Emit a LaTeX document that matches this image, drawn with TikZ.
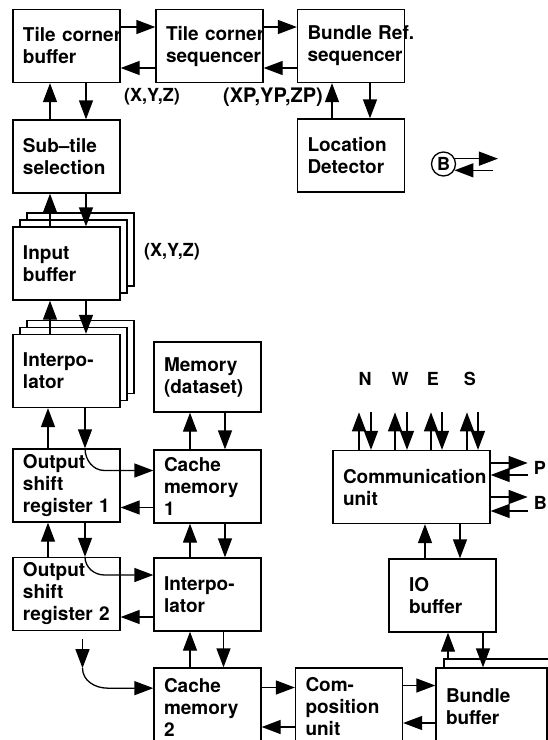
\documentclass[tikz,border=0pt]{standalone}
\usepackage{fontspec}
\setmainfont{TeX Gyre Heros}
\usetikzlibrary{arrows.meta,shadows}

\begin{document}
\begin{tikzpicture}[x=1pt,y=-1pt,
blk/.style={draw,line width=1.3pt,fill=white,text width=87pt,inner xsep=10pt,inner ysep=2pt,
  minimum height=73pt,align=left,font=\bfseries\fontsize{19}{22}\selectfont,
  execute at begin node={\hyphenpenalty=10000\exhyphenpenalty=10000}},
stack/.style={copy shadow={shadow xshift=14pt,shadow yshift=14pt,draw=black,fill=white,line width=1.3pt},
  copy shadow={shadow xshift=7pt,shadow yshift=7pt,draw=black,fill=white,line width=1.3pt}},
lbl/.style={font=\bfseries\fontsize{18}{20}\selectfont,inner sep=0pt},
arr/.style={line width=1.3pt,-{Triangle[length=19pt,width=14pt]}}]
\useasboundingbox (0,0) rectangle (548,740);
% tile corner / bundle reference part
\node[blk] (tcb) at (66.5,46) {Tile~corner\\buffer};
\node[blk] (tcs) at (209.5,46) {Tile~corner\\sequencer};
\node[blk] (brs) at (351,46) {Bundle~Ref.\\sequencer};
\node[blk] (sub) at (66.5,156.5) {Sub--tile\\selection};
\node[blk] (loc) at (351,155.5) {Location\\Detector};
\node[draw,circle,line width=1.3pt,minimum size=24pt,lbl] (bc) at (443.5,164) {B};
\node[lbl] (xyz) at (152,97) {(X,Y,Z)};
\node[lbl,font=\bfseries\fontsize{20}{22}\selectfont] (xyzp) at (273,97) {(XP,YP,ZP)};
% interpolation part
\node[blk,stack] (inb) at (66.5,263.5) {Input\\buffer};
\node[lbl] (xyzin) at (172,252) {(X,Y,Z)};
\node[blk,stack] (itp) at (66.5,371) {Interpo-\\lator};
\node[blk,minimum height=70pt] (mem) at (207.5,377) {Memory\\(dataset)};
\node[blk] (osr1) at (66.5,485.5) {Output\\shift\\register~1};
\node[blk] (cm1) at (207.5,486.5) {Cache\\memory\\1};
\node[blk] (osr2) at (66.5,594) {Output\\shift\\register~2};
\node[blk] (itp2) at (207.5,594.5) {Interpo-\\lator};
\node[blk,minimum height=78pt] (cm2) at (207.5,707) {Cache\\memory\\2};
\node[blk,minimum height=78pt] (cpu) at (349,707) {Com-\\position\\unit};
% communication part
\node[blk,text width=137pt] (com) at (411.5,487) {Communication\\unit};
\node[blk,text width=67pt,inner xsep=20pt] (iob) at (442.5,595.5) {IO\\buffer};
\node[blk,minimum height=78pt,text width=91pt,
  copy shadow={shadow xshift=8pt,shadow yshift=9pt,draw=black,fill=white,line width=1.3pt}] (bdb) at (491.5,707) {Bundle\\buffer};

% horizontal links, top row
\draw[arr] ([yshift=19pt]tcb.east) -- ([yshift=19pt]tcb.east -| tcs.west);
\draw[arr] ([yshift=-22pt]tcb.east -| tcs.west) -- ([yshift=-22pt]tcb.east);
\draw[arr] ([yshift=19pt]tcs.east) -- ([yshift=19pt]tcs.east -| brs.west);
\draw[arr] ([yshift=-22pt]tcs.east -| brs.west) -- ([yshift=-22pt]tcs.east);
% left column
\draw[arr] ([xshift=-16.5pt]sub.north) -- ([xshift=-16.5pt]sub.north |- tcb.south);
\draw[arr] ([xshift=19.5pt]tcb.south) -- ([xshift=19.5pt]tcb.south |- sub.north);
\draw[arr] ([xshift=-16.5pt]inb.north) -- ([xshift=-16.5pt]inb.north |- sub.south);
\draw[arr] ([xshift=19.5pt]sub.south) -- ([xshift=19.5pt]sub.south |- inb.north);
\draw[arr] ([xshift=-16.5pt]itp.north) -- ([xshift=-16.5pt]itp.north |- inb.south);
\draw[arr] ([xshift=19.5pt]inb.south) -- ([xshift=19.5pt]inb.south |- itp.north);
\draw[arr] ([xshift=-18.5pt]osr1.north) -- ([xshift=-18.5pt]osr1.north |- itp.south);
\draw[arr] ([xshift=18.5pt]itp.south) -- ([xshift=18.5pt]itp.south |- osr1.north);
\draw[arr] ([xshift=18.5pt]itp.south |- osr1.north) to[out=-90,in=180] ([xshift=38pt,yshift=15pt]osr1.center)
  -- ([yshift=15pt]osr1.center -| cm1.west);
\draw[arr] ([yshift=-22pt]osr1.east -| cm1.west) -- ([yshift=-22pt]osr1.east);
\draw[arr] ([xshift=-18.5pt]osr2.north) -- ([xshift=-18.5pt]osr2.north |- osr1.south);
\draw[arr] ([xshift=18.5pt]osr1.south) -- ([xshift=18.5pt]osr1.south |- osr2.north);
\draw[arr] ([xshift=18.5pt]osr1.south |- osr2.north) to[out=-90,in=180] ([xshift=38pt,yshift=19pt]osr2.center)
  -- ([yshift=19pt]osr2.center -| itp2.west);
\draw[arr] ([yshift=-23pt]osr2.east -| itp2.west) -- ([yshift=-23pt]osr2.east);
\coordinate (s2a) at ([xshift=16pt,yshift=-8pt]osr2.south);
\coordinate (s2b) at ([xshift=16pt,yshift=-37pt]osr2.south);
\coordinate (s2c) at ([xshift=25pt,yshift=-20pt]s2b);
\draw[arr] (s2a) -- (s2b);
\draw[arr] (s2b) to[out=-90,in=180] (s2c) -- (s2c -| cm2.west);
% middle column
\draw[arr] ([xshift=-19pt]loc.north) -- ([xshift=-19pt]loc.north |- brs.south);
\draw[arr] ([xshift=19pt]brs.south) -- ([xshift=19pt]brs.south |- loc.north);
\draw[arr] ([xshift=-17.5pt]cm1.north) -- ([xshift=-17.5pt]cm1.north |- mem.south);
\draw[arr] ([xshift=17.5pt]mem.south) -- ([xshift=17.5pt]mem.south |- cm1.north);
\draw[arr] ([xshift=-17.5pt]itp2.north) -- ([xshift=-17.5pt]itp2.north |- cm1.south);
\draw[arr] ([xshift=17.5pt]cm1.south) -- ([xshift=17.5pt]cm1.south |- itp2.north);
\draw[arr] ([xshift=-17.5pt]cm2.north) -- ([xshift=-17.5pt]cm2.north |- itp2.south);
\draw[arr] ([xshift=16pt]itp2.south) -- ([xshift=16pt]itp2.south |- cm2.north);
% bottom row
\draw[arr] ([yshift=19.5pt]cm2.east) -- ([yshift=19.5pt]cm2.east -| cpu.west);
\draw[arr] ([yshift=-20pt]cm2.east -| cpu.west) -- ([yshift=-20pt]cm2.east);
\draw[arr] ([yshift=21.5pt]cpu.east) -- ([yshift=21.5pt]cpu.east -| bdb.west);
\draw[arr] ([yshift=-16pt]cpu.east -| bdb.west) -- ([yshift=-16pt]cpu.east);
% communication links
\draw[arr] ([xshift=-43.5pt,yshift=9pt]bdb.north) -- ([xshift=-43.5pt]bdb.north |- iob.south);
\draw[arr] ([xshift=-8.5pt]iob.south -| bdb.north) -- ([xshift=-8.5pt]bdb.north);
\draw[arr] ([xshift=-17.5pt]iob.north) -- ([xshift=-17.5pt]iob.north |- com.south);
\draw[arr] ([xshift=17.5pt]com.south -| iob.north) -- ([xshift=17.5pt]iob.north);
\foreach \u/\d/\l/\dir in {-52.5pt/-40.5pt/-46.5pt/N,-16.5pt/-4.5pt/-11.5pt/W,
  19.5pt/30.5pt/21.5pt/E,55.5pt/66.5pt/58.5pt/S}{
  \coordinate (u\dir) at ([xshift=\u,yshift=37.5pt]com.north);
  \coordinate (d\dir) at ([xshift=\d,yshift=37.5pt]com.north);
  \draw[arr] ([xshift=\u]com.north) -- (u\dir);
  \draw[arr] (d\dir) -- ([xshift=\d]com.north);
  \node[lbl] (l\dir) at ([xshift=\l,yshift=70.5pt]com.north) {\dir};
}
\coordinate (pout) at ([xshift=37pt,yshift=24pt]com.east);
\coordinate (pin) at ([xshift=37pt,yshift=12pt]com.east);
\coordinate (bout) at ([xshift=37pt,yshift=-10pt]com.east);
\coordinate (bin) at ([xshift=37pt,yshift=-24pt]com.east);
\draw[arr] ([yshift=24pt]com.east) -- (pout);
\draw[arr] (pin) -- ([yshift=12pt]com.east);
\draw[arr] ([yshift=-10pt]com.east) -- (bout);
\draw[arr] (bin) -- ([yshift=-24pt]com.east);
\node[lbl,anchor=west] (lp) at ([xshift=43pt,yshift=19pt]com.east) {P};
\node[lbl,anchor=west] (lb) at ([xshift=43pt,yshift=-16pt]com.east) {B};
% B marker
\coordinate (bco) at ([xshift=43pt]bc.25);
\coordinate (bci) at ([xshift=39pt]bc.-30);
\draw[arr] (bc.25) -- (bco);
\draw[arr] (bci) -- (bc.-30);
\end{tikzpicture}
\end{document}
